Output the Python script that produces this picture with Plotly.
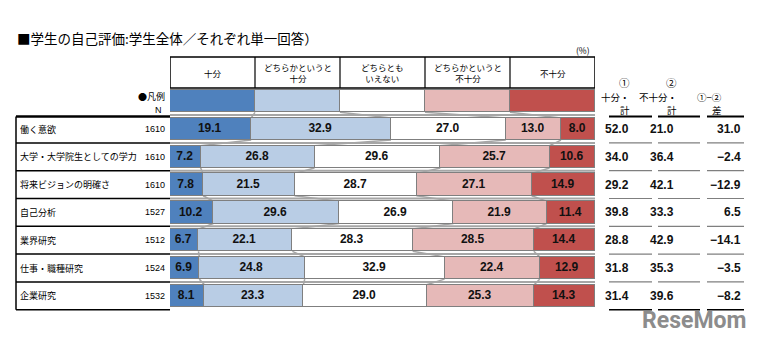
import plotly.graph_objects as go

# ---------------- data ----------------
categories = ["十分", "どちらかというと<br>十分", "どちらとも<br>いえない", "どちらかというと<br>不十分", "不十分"]
items = ["働く意欲", "大学・大学院生としての学力", "将来ビジョンの明確さ", "自己分析", "業界研究", "仕事・職種研究", "企業研究"]
n_values = [1610, 1610, 1610, 1527, 1512, 1524, 1532]
v_juubun = [19.1, 7.2, 7.8, 10.2, 6.7, 6.9, 8.1]
v_dochira_juubun = [32.9, 26.8, 21.5, 29.6, 22.1, 24.8, 23.3]
v_dochiramo = [27.0, 29.6, 28.7, 26.9, 28.3, 32.9, 29.0]
v_dochira_fujuubun = [13.0, 25.7, 27.1, 21.9, 28.5, 22.4, 25.3]
v_fujuubun = [8.0, 10.6, 14.9, 11.4, 14.4, 12.9, 14.3]
legend_key = [20, 20, 20, 20, 20]
sum_juubun = [52.0, 34.0, 29.2, 39.8, 28.8, 31.8, 31.4]
sum_fujuubun = [21.0, 36.4, 42.1, 33.3, 42.9, 35.3, 39.6]
diff = [31.0, -2.4, -12.9, 6.5, -14.1, -3.5, -8.2]
summary_headers = [["①", "十分・", "計"], ["②", "不十分・", "計"], ["①−②", "差"]]
title = "■学生の自己評価:学生全体／それぞれ単一回答）"

series = [v_juubun, v_dochira_juubun, v_dochiramo, v_dochira_fujuubun, v_fujuubun]
colors = ["#4f81bd", "#b9cde5", "#ffffff", "#e6b9b8", "#c0504d"]

W, H = 761, 341
ROW0, STEP = 129.0, 27.8


def vy(p):  # pixel y -> axis units
    return (p - ROW0) / STEP


def px(p):  # pixel x -> paper
    return p / W


rows = list(range(len(items)))
LEG = -1
BW = 0.8
JP = "Noto Sans CJK JP"
NUM = "Liberation Sans, Arial"

fig = go.Figure()
for k, (vals, col) in enumerate(zip(series, colors)):
    fig.add_trace(go.Bar(
        orientation="h",
        y=[LEG] + rows,
        x=[legend_key[k]] + vals,
        width=BW,
        marker=dict(color=col, line=dict(color="#7f7f7f", width=1.5)),
        text=[""] + [f"{v:.1f}" for v in vals],
        textposition="inside",
        insidetextanchor="middle",
        textangle=0,
        constraintext="none",
        textfont=dict(family=NUM, size=12, color="#111111", weight="bold"),
        hoverinfo="skip",
        showlegend=False,
        cliponaxis=False,
    ))

shapes = []
ann = []

# gray row separators in the bar area
for i in [LEG] + rows[:-1]:
    shapes.append(dict(type="line", xref="x", yref="y", x0=0, x1=100, y0=i + 0.5, y1=i + 0.5,
                       line=dict(color="#a6a6a6", width=2), layer="below"))

# connectors between segment boundaries
all_rows = [legend_key] + [[s[i] for s in series] for i in rows]
ys = [LEG] + rows
for r in range(len(all_rows) - 1):
    a, b = all_rows[r], all_rows[r + 1]
    ca = cb = 0.0
    for k in range(4):
        ca += a[k]
        cb += b[k]
        shapes.append(dict(type="line", xref="x", yref="y", x0=ca, x1=cb,
                           y0=ys[r] + BW / 2, y1=ys[r + 1] - BW / 2,
                           line=dict(color="#a6a6a6", width=1.5), layer="below"))

# header table
ht, hb = vy(57), vy(88)
shapes.append(dict(type="rect", xref="x", yref="y", x0=0, x1=100, y0=ht, y1=hb,
                   line=dict(color="black", width=1.5)))
for k in range(1, 5):
    shapes.append(dict(type="line", xref="x", yref="y", x0=20 * k, x1=20 * k, y0=ht, y1=hb,
                       line=dict(color="black", width=1.2)))
for k, c in enumerate(categories):
    ann.append(dict(x=10 + 20 * k, y=(ht + hb) / 2, xref="x", yref="y", text=c, showarrow=False,
                    font=dict(family=JP, size=8.5, color="black")))
ann.append(dict(x=px(592), y=vy(50), xref="paper", yref="y", text="(%)", showarrow=False,
                xanchor="right", font=dict(family=JP, size=8.5, color="black")))

# left table
top = -0.45
shapes.append(dict(type="line", xref="paper", yref="y", x0=px(16), x1=px(170), y0=top, y1=top,
                   line=dict(color="black", width=2.5)))
for i in rows:
    yb = i + 0.5
    shapes.append(dict(type="line", xref="paper", yref="y", x0=px(16), x1=px(170), y0=yb, y1=yb,
                       line=dict(color="black", width=1.5)))
shapes.append(dict(type="line", xref="paper", yref="y", x0=px(16), x1=px(16), y0=top, y1=len(rows) - 0.5,
                   line=dict(color="black", width=1.5)))
for i, (lab, n) in enumerate(zip(items, n_values)):
    ann.append(dict(x=px(18), y=i, xref="paper", yref="y", text=lab, showarrow=False, xanchor="left",
                    font=dict(family=JP, size=9, color="black")))
    ann.append(dict(x=px(167), y=i, xref="paper", yref="y", text=str(n), showarrow=False, xanchor="right",
                    font=dict(family=NUM, size=9, color="black")))
ann.append(dict(x=px(167), y=vy(96), xref="paper", yref="y", text="●凡例", showarrow=False, xanchor="right",
                font=dict(family=JP, size=9, color="black")))
ann.append(dict(x=px(153), y=vy(110), xref="paper", yref="y", text="N", showarrow=False,
                font=dict(family=NUM, size=9, color="black")))

# right summary columns
cols = [(609, 652), (658, 700), (707, 744)]
hx = [632, 679, 724]
line_y = [110, 96.5, 82.5]  # bottom-up line centres
for j, lines in enumerate(summary_headers):
    for m, t in enumerate(reversed(lines)):
        circ = t in ("①", "②")
        ann.append(dict(x=px(hx[j]), y=vy(line_y[m]), xref="paper", yref="y", text=t, showarrow=False,
                        font=dict(family=JP, size=10.5 if circ else 9.5, color="black")))
for (x0, x1) in cols:
    shapes.append(dict(type="line", xref="paper", yref="y", x0=px(x0), x1=px(x1), y0=top, y1=top,
                       line=dict(color="black", width=2)))
    for i in rows:
        last = i == len(rows) - 1
        shapes.append(dict(type="line", xref="paper", yref="y", x0=px(x0), x1=px(x1), y0=i + 0.5, y1=i + 0.5,
                           line=dict(color="black" if last else "#7f7f7f", width=1.5 if last else 1.2)))


def fmt(v):
    return f"{v:.1f}".replace("-", "−")


for i in rows:
    ann.append(dict(x=px(631), y=i, xref="paper", yref="y", text=fmt(sum_juubun[i]), showarrow=False,
                    font=dict(family=NUM, size=12, color="#111111", weight="bold")))
    ann.append(dict(x=px(676), y=i, xref="paper", yref="y", text=fmt(sum_fujuubun[i]), showarrow=False,
                    font=dict(family=NUM, size=12, color="#111111", weight="bold")))
    ann.append(dict(x=px(743), y=i, xref="paper", yref="y", text=fmt(diff[i]), showarrow=False, xanchor="right",
                    font=dict(family=NUM, size=12, color="#111111", weight="bold")))

# title
ann.append(dict(x=px(15), y=vy(38), xref="paper", yref="y", text=title, showarrow=False, xanchor="left",
                font=dict(family=JP, size=13.5, color="black")))

# watermark
ann.append(dict(x=px(748), y=vy(320), xref="paper", yref="y", text="<b>ReseMom</b>", showarrow=False,
                xanchor="right", font=dict(family="Roboto", size=23, color="#8c8c8c")))

fig.update_layout(
    width=W, height=H,
    margin=dict(l=0, r=0, t=0, b=0),
    paper_bgcolor="white", plot_bgcolor="rgba(0,0,0,0)",
    barmode="stack", bargap=0,
    xaxis=dict(domain=[px(170), px(595)], range=[0, 100], visible=False, fixedrange=True),
    yaxis=dict(domain=[0, 1], range=[vy(H), vy(0)], visible=False, fixedrange=True),
    uniformtext=dict(minsize=12, mode="show"),
    shapes=shapes,
    annotations=ann,
    showlegend=False,
)

fig.write_html("out.html")
